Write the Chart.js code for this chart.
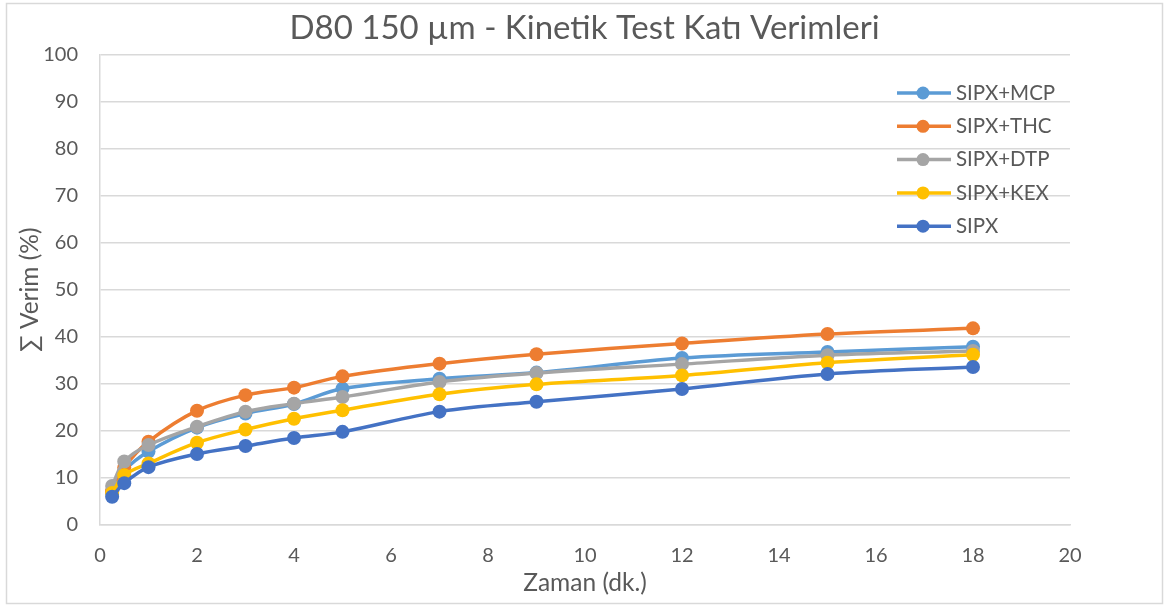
<!DOCTYPE html>
<html>
<head>
<meta charset="utf-8">
<script src="https://cdn.jsdelivr.net/npm/chart.js@4.4.1/dist/chart.umd.min.js"></script>
<style>
  html, body { margin: 0; padding: 0; background: #fff; }
  #wrap { width: 1169px; height: 608px; position: relative; }
</style>
</head>
<body>
<div id="wrap"><canvas id="myChart" width="1169" height="608"></canvas></div>
<script>
// Sampling times (min) and cumulative solids recovery (%) per reagent set
const times = [0.25, 0.5, 1, 2, 3, 4, 5, 7, 9, 12, 15, 18]
const sipxMcp = [7.0, 11.5, 15.6, 20.7, 23.7, 25.7, 29.0, 31.1, 32.4, 35.5, 36.8, 37.9]
const sipxThc = [7.2, 12.2, 17.7, 24.3, 27.6, 29.2, 31.6, 34.3, 36.3, 38.6, 40.6, 41.8]
const sipxDtp = [8.3, 13.5, 17.0, 20.9, 24.1, 25.8, 27.2, 30.4, 32.3, 34.2, 36.1, 37.0]
const sipxKex = [6.8, 10.6, 13.1, 17.5, 20.3, 22.6, 24.4, 27.8, 29.9, 31.8, 34.5, 36.2]
const sipx = [6.0, 8.9, 12.3, 15.1, 16.8, 18.5, 19.8, 24.1, 26.2, 28.9, 32.1, 33.6]

const seriesNames = ['SIPX+MCP', 'SIPX+THC', 'SIPX+DTP', 'SIPX+KEX', 'SIPX']
const seriesValues = [sipxMcp, sipxThc, sipxDtp, sipxKex, sipx]
const colors = ['#5B9BD5', '#ED7D31', '#A5A5A5', '#FFC000', '#4472C4']

const FONT = 'Lato, Calibri, "Open Sans", sans-serif'
const TEXT = '#595959'

const ctx = document.querySelector('#myChart')

const datasets = seriesNames.map((name, i) => ({
  label: name,
  data: seriesValues[i].map((v, j) => ({ x: times[j], y: v })),
  borderColor: colors[i],
  backgroundColor: colors[i],
  borderWidth: 3.5,
  pointRadius: 7,
  pointHoverRadius: 7,
  pointBorderWidth: 0,
  tension: 0.35,
  // later series sit on top, like the original sheet
  order: seriesNames.length - i
}))

// white background + thin frame around the whole chart
const frame = {
  id: 'frame',
  beforeDraw(chart) {
    const c = chart.ctx
    c.save()
    c.fillStyle = '#fff'
    c.fillRect(0, 0, chart.width, chart.height)
    c.strokeStyle = '#d9d9d9'
    c.lineWidth = 1.5
    c.strokeRect(6.5, 3.5, 1156, 600)
    c.restore()
  }
}

// legend drawn inside the plot, top right
const innerLegend = {
  id: 'innerLegend',
  afterDatasetsDraw(chart) {
    const c = chart.ctx
    c.save()
    c.font = '20.5px ' + FONT
    c.textBaseline = 'middle'
    seriesNames.forEach((name, i) => {
      const y = 93 + i * 33.3
      c.strokeStyle = colors[i]
      c.lineWidth = 3.5
      c.beginPath()
      c.moveTo(897, y)
      c.lineTo(951, y)
      c.stroke()
      c.fillStyle = colors[i]
      c.beginPath()
      c.arc(923, y, 6.5, 0, Math.PI * 2)
      c.fill()
      c.fillStyle = TEXT
      c.fillText(name, 956, y)
    })
    c.restore()
  }
}

const config = {
  type: 'line',
  data: { datasets: datasets },
  options: {
    responsive: false,
    animation: false,
    layout: { padding: { left: 6, right: 6, top: 0, bottom: 5 } },
    plugins: {
      legend: { display: false },
      tooltip: { enabled: false },
      title: {
        display: true,
        text: 'D80 150 µm - Kinetik Test Katı Verimleri',
        color: TEXT,
        font: { family: FONT, size: 33, weight: 'normal' },
        padding: { top: 9, bottom: 6 }
      }
    },
    scales: {
      x: {
        type: 'linear',
        min: 0,
        max: 20,
        ticks: { stepSize: 2, color: TEXT, font: { family: FONT, size: 20 }, padding: 19, maxRotation: 0 },
        grid: { display: false, drawTicks: false },
        border: { color: '#d9d9d9', width: 1.5 },
        title: { display: true, text: 'Zaman (dk.)', color: TEXT, font: { family: FONT, size: 24.5 }, padding: { top: 0, bottom: 5 } },
        afterFit(scale) { scale.height = 78 }
      },
      y: {
        min: 0,
        max: 100,
        ticks: { stepSize: 10, color: TEXT, font: { family: FONT, size: 20 }, padding: 22 },
        grid: { color: '#d9d9d9', lineWidth: 1.5, drawTicks: false },
        border: { color: '#d9d9d9', width: 1.5 },
        title: { display: true, text: '∑ Verim (%)', color: TEXT, font: { family: FONT, size: 24.5 }, padding: { top: 9, bottom: 0 } },
        afterFit(scale) { scale.width = 94 }
      },
      // empty right-hand axis that only reserves the blank margin
      yRight: {
        position: 'right',
        min: 0,
        max: 100,
        ticks: { display: false },
        grid: { display: false, drawTicks: false },
        border: { display: false },
        afterFit(scale) { scale.width = 93 }
      }
    }
  },
  plugins: [frame, innerLegend]
}

const chart = new Chart(ctx, config)
</script>
</body>
</html>
